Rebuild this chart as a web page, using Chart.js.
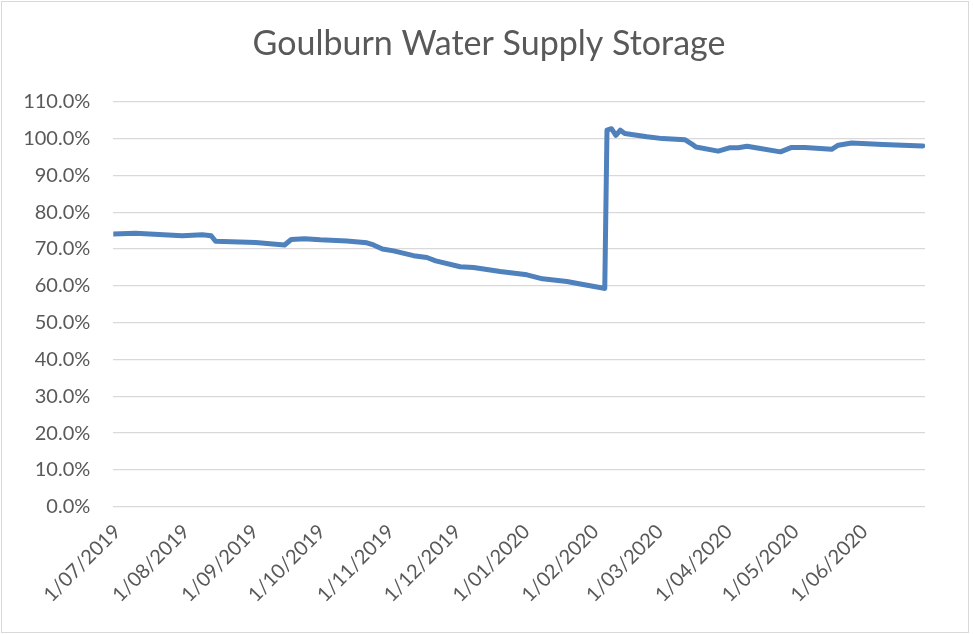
<!DOCTYPE html>
<html>
<head>
<meta charset="utf-8">
<script src="https://cdn.jsdelivr.net/npm/chart.js@4/dist/chart.umd.min.js"></script>
<style>
  html, body { margin: 0; padding: 0; background: #ffffff; }
  #wrap { width: 973px; height: 634px; position: relative; }
</style>
</head>
<body>
<div id="wrap"><canvas id="c" width="973" height="634"></canvas></div>
<script>
const dayOffsets = [0, 10, 31, 40, 44, 46, 64, 77, 80, 86,
  93, 105, 114, 117, 121, 126, 135, 141, 145, 156,
  162, 174, 186, 193, 204, 210, 220, 221, 222, 224,
  226, 228, 230, 240, 247, 257, 260, 262, 272, 277,
  281, 285, 289, 300, 305, 311, 323, 326, 332, 346,
  364];
// Storage level (%)
const storagePct = [74.1, 74.3, 73.6, 73.9, 73.6, 72.1, 71.8, 71.1, 72.6, 72.8,
  72.5, 72.2, 71.7, 71.1, 70.0, 69.5, 68.2, 67.7, 66.8, 65.2,
  65.0, 63.9, 63.0, 61.9, 61.2, 60.5, 59.4, 59.3, 102.3, 102.7,
  100.9, 102.3, 101.4, 100.5, 100.0, 99.7, 98.6, 97.7, 96.6, 97.5,
  97.5, 97.9, 97.5, 96.4, 97.6, 97.6, 97.1, 98.2, 98.8, 98.4,
  98.0];
// X-axis tick labels (month starts) and their day offsets
const monthTickLabels = ['1/07/2019', '1/08/2019', '1/09/2019', '1/10/2019', '1/11/2019', '1/12/2019',
  '1/01/2020', '1/02/2020', '1/03/2020', '1/04/2020', '1/05/2020', '1/06/2020'];
const monthTickDays = [0, 31, 62, 92, 123, 153, 184, 215, 244, 275, 305, 336];
const chartTitle = 'Goulburn Water Supply Storage';
const seriesName = 'Storage';

const textColor = '#595959';
const gridColor = '#d9d9d9';
const fontFamily = 'Lato, "Open Sans", sans-serif';

const borderPlugin = {
  id: 'outerBorder',
  beforeDraw(chart) {
    const ctx = chart.ctx;
    ctx.save();
    ctx.fillStyle = '#ffffff';
    ctx.fillRect(0, 0, chart.width, chart.height);
    ctx.strokeStyle = '#d9d9d9';
    ctx.lineWidth = 1;
    ctx.strokeRect(1.5, 1.5, 967, 631);
    ctx.restore();
  }
};

new Chart(document.getElementById('c'), {
  type: 'line',
  data: {
    datasets: [{
      label: seriesName,
      data: dayOffsets.map((d, i) => ({ x: d, y: storagePct[i] })),
      borderColor: '#4F81BD',
      borderWidth: 5,
      pointRadius: 0,
      tension: 0,
      borderCapStyle: 'round',
      borderJoinStyle: 'round',
      fill: false
    }]
  },
  options: {
    responsive: false,
    animation: false,
    layout: { padding: { left: 5, right: 0, top: 0, bottom: 0 } },
    plugins: {
      legend: { display: false },
      tooltip: { enabled: false },
      title: {
        display: true,
        text: chartTitle,
        color: textColor,
        font: { family: fontFamily, size: 34, weight: 'normal' },
        padding: { top: 24, bottom: 37 }
      }
    },
    scales: {
      x: {
        type: 'linear',
        min: 0,
        max: 365,
        afterBuildTicks(scale) {
          scale.ticks = monthTickDays.map(v => ({ value: v }));
        },
        afterFit(scale) { scale.height = 127.3; },
        grid: { display: false, drawTicks: false },
        border: { display: false },
        ticks: {
          autoSkip: false,
          maxRotation: 45,
          minRotation: 45,
          padding: 13,
          labelOffset: 4,
          color: textColor,
          font: { family: fontFamily, size: 20 },
          callback(value) {
            const i = monthTickDays.indexOf(value);
            return i >= 0 ? monthTickLabels[i] : '';
          }
        }
      },
      y: {
        min: 0,
        max: 110,
        afterFit(scale) { scale.width = 108.3; },
        grid: { color: gridColor, lineWidth: 1.3, drawTicks: false },
        border: { display: false },
        ticks: {
          stepSize: 10,
          padding: 23,
          color: textColor,
          font: { family: fontFamily, size: 20 },
          callback(value) { return value.toFixed(1) + '%'; }
        }
      },
      ySpacer: {
        position: 'right',
        min: 0,
        max: 110,
        afterFit(scale) { scale.width = 48; },
        grid: { display: false, drawTicks: false },
        border: { display: false },
        ticks: { display: false }
      }
    }
  },
  plugins: [borderPlugin]
});
</script>
</body>
</html>
